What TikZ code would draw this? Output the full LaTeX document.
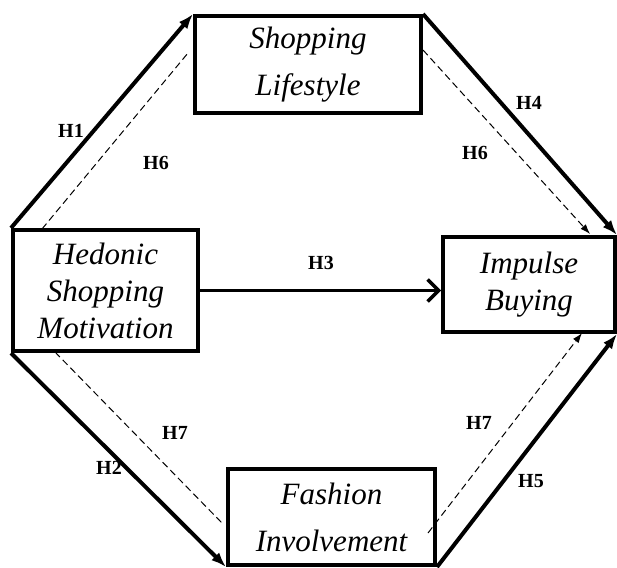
\documentclass[tikz,border=0pt]{standalone}
\usepackage{fontspec}
\setmainfont{Liberation Serif}
\usetikzlibrary{arrows.meta}

\begin{document}
\begin{tikzpicture}
[x=1pt,y=-1pt,
  boxDecorate/.style={draw,line width=4pt,align=center,inner sep=0pt,
    font=\fontsize{31}{37}\selectfont\itshape},%
  lineDecorate/.style={line width=4pt,-{Latex[length=15pt,width=11pt]}},%
  openDecorate/.style={line width=3.5pt,-{Straight Barb[length=11pt,width=22pt]}},%
  dashDecorate/.style={line width=1pt,dash pattern=on 7pt off 4pt},%
  dashArrow/.style={dashDecorate,-{Latex[length=10pt,width=7pt]}},%
  hypDecorate/.style={font=\fontsize{20}{20}\selectfont\bfseries}]
\useasboundingbox (0,0) rectangle (617,567);
%% constructs
\node (sl) at (308,64.5) [boxDecorate,minimum width=226pt,minimum height=97pt]
  {Shopping\\[10pt]Lifestyle};
\node (hsm) at (105.5,290.5) [boxDecorate,minimum width=185pt,minimum height=121pt]
  {Hedonic\\Shopping\\Motivation};
\node (ib) at (529,284.5) [boxDecorate,minimum width=172pt,minimum height=95pt]
  {Impulse\\Buying};
\node (fi) at (331.5,517) [boxDecorate,minimum width=207pt,minimum height=96pt]
  {Fashion\\[10pt]Involvement};
%% free ends of the mediation paths
\coordinate (m6a) at (42,229);
\coordinate (m6b) at (188,53);
\coordinate (m6c) at (423,50);
\coordinate (m6d) at (590,234);
\coordinate (m7a) at (55,352);
\coordinate (m7b) at (222,523);
\coordinate (m7c) at (428,533);
\coordinate (m7d) at (582,333);
%% direct paths
\draw[lineDecorate] (hsm.north west) -- (sl.north west);
\draw[lineDecorate] (sl.north east) -- (ib.north east);
\draw[openDecorate] (hsm.east) -- (hsm.east -| ib.west);
\draw[lineDecorate] (hsm.south west) -- (fi.south west);
\draw[lineDecorate] (fi.south east) -- (ib.south east);
%% mediation paths
\draw[dashDecorate] (m6a) -- (m6b);
\draw[dashArrow] (m6c) -- (m6d);
\draw[dashDecorate] (m7a) -- (m7b);
\draw[dashArrow] (m7c) -- (m7d);
%% hypotheses
\foreach \name/\lab/\x/\y in {
  h1/H1/71/131, h6a/H6/156/163, h4/H4/529/103, h6b/H6/475/153,
  h3/H3/321/263, h7a/H7/175/433, h2/H2/109/468, h7b/H7/479/423,
  h5/H5/531/481}
{
  \node (\name) at (\x,\y) [hypDecorate] {\lab};
}
\end{tikzpicture}
\end{document}
